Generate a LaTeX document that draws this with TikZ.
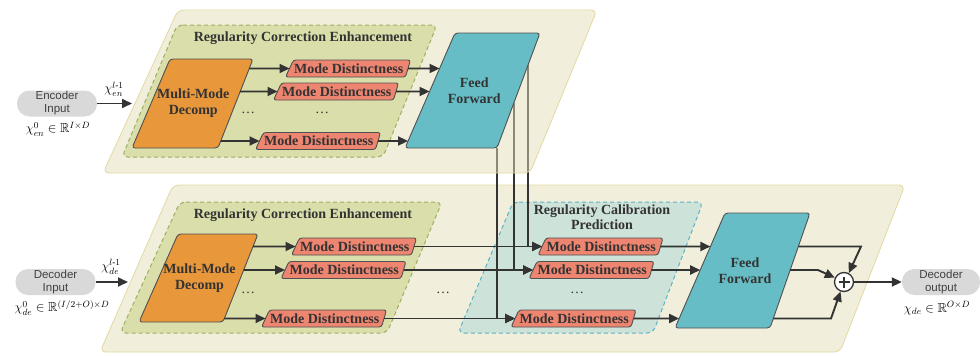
\documentclass[tikz,border=0pt]{standalone}
\usepackage{fix-cm}
\usepackage{amsmath,amssymb}
\usepackage{fontspec}
\setmainfont{Liberation Serif}
\newfontfamily\pillfont{Liberation Sans}
\usetikzlibrary{arrows.meta,calc}
\definecolor{panelfill}{HTML}{F1EFDC}
\definecolor{paneltop}{HTML}{E3DFB9}
\definecolor{panelline}{HTML}{E2D9A2}
\definecolor{greenfill}{HTML}{DADEAA}
\definecolor{greenline}{HTML}{9DAF62}
\definecolor{orangefill}{HTML}{E8973A}
\definecolor{salmon}{HTML}{EE8570}
\definecolor{cyanfill}{HTML}{66BDC5}
\definecolor{tealfill}{HTML}{CDE2D9}
\definecolor{tealline}{HTML}{5BB3C3}
\definecolor{pillgray}{HTML}{D9D9D9}
\definecolor{ink}{HTML}{333333}
\definecolor{edgegray}{HTML}{505050}
\definecolor{pilltext}{HTML}{404040}
\pgfdeclarelayer{panels}
\pgfdeclarelayer{links}
\pgfdeclarelayer{toppanel}
\pgfsetlayers{panels,links,toppanel,main}
\tikzset{
  parashape/.style={draw=edgegray, line width=0.9pt, rounded corners=3pt},
  modestyle/.style={parashape, fill=salmon, rounded corners=2.5pt},
  mmstyle/.style={parashape, fill=orangefill},
  ffstyle/.style={parashape, fill=cyanfill},
  paratext/.style={inner sep=0pt, font=\bfseries\fontsize{14}{16}\selectfont, text=ink, align=center},
  arr/.style={draw=ink, line width=1.9pt, -{Triangle[length=10pt,width=9pt]}},
  panel/.style={draw=panelline, line width=0.8pt, rounded corners=6pt},
  greenreg/.style={draw=greenline, fill=greenfill, line width=1pt, dash pattern=on 4pt off 3pt, rounded corners=6pt},
  tealreg/.style={draw=tealline, fill=tealfill, line width=1pt, dash pattern=on 4pt off 3pt, rounded corners=6pt},
  title/.style={font=\bfseries\fontsize{14}{15}\selectfont, text=ink, align=center, inner sep=0pt},
  dotsnode/.style={font=\fontsize{14}{14}\selectfont, text=ink, inner sep=0pt},
  pill/.style={rectangle, rounded corners=12.5pt, fill=pillgray, minimum width=80pt, minimum height=26pt,
    inner sep=0pt, font=\pillfont\fontsize{11.5}{13}\selectfont, text=pilltext, align=center},
  mathlab/.style={font=\fontsize{13}{13}\selectfont, inner sep=0pt},
}
% #1 name, #2 style, #3 x top-left, #4 x top-right, #5 x bottom-right, #6 x bottom-left, #7 y top, #8 y bottom, #9 text
\newcommand{\mkpara}[9]{%
  \coordinate (#1tl) at (#3,#7);
  \coordinate (#1tr) at (#4,#7);
  \coordinate (#1br) at (#5,#8);
  \coordinate (#1bl) at (#6,#8);
  \coordinate (#1w) at ($(#1tl)!0.5!(#1bl)$);
  \coordinate (#1e) at ($(#1tr)!0.5!(#1br)$);
  \draw[#2] (#1tl) -- (#1tr) -- (#1br) -- (#1bl) -- cycle;
  \node[paratext] (#1) at ($(#1w)!0.5!(#1e)$) {#9};
}
\newcommand{\mkmode}[3]{\mkpara{#1}{modestyle}{#2-54.5}{#2+62.5}{#2+57.5}{#2-62.5}{#3-8.5}{#3+8.5}{Mode Distinctness}}
\begin{document}
\begin{tikzpicture}[x=1pt,y=-1pt]
\useasboundingbox (0,0) rectangle (980,356);

% ---------- panels ----------
\begin{pgfonlayer}{panels}
  \draw[panel, fill=panelfill] (173,185) -- (905,185) -- (840,352) -- (100,352) -- cycle;
  \draw[greenreg] (180,202) -- (442,202) -- (387,333) -- (120,333) -- cycle;
  \draw[tealreg] (513,202) -- (703,202) -- (653,333) -- (458,333) -- cycle;
\end{pgfonlayer}
\begin{pgfonlayer}{toppanel}
  \draw[panel, fill=paneltop, fill opacity=0.5] (178,10) -- (597,10) -- (530,173) -- (103,173) -- cycle;
\end{pgfonlayer}
\draw[greenreg] (177,25) -- (437,25) -- (383,157) -- (122,157) -- cycle;

% ---------- encoder ----------
\node[title] (t1) at (303,38) {Regularity Correction Enhancement};
\mkpara{mma}{mmstyle}{170}{253}{218}{132}{59}{148}{Multi-Mode\\Decomp}
\mkmode{Ta}{348}{68.5}
\mkmode{Tb}{336}{91.5}
\mkmode{Tc}{318}{141}
\node[dotsnode] (d1) at (248,113) {\ldots};
\node[dotsnode] (d2) at (322,113) {\ldots};
\mkpara{ffa}{ffstyle}{455}{540}{497}{405}{33}{148}{Feed\\Forward}

\node[pill] (encin) at (57,103.5) {Encoder\\Input};
\node[mathlab] (encm) at (58,129) {$\chi_{en}^{0}\in\mathbb{R}^{I\times D}$};
\coordinate (encend) at (132,103.5);
\draw[arr] (encin.east) -- (encend);
\node[mathlab] (encl) at (114,89) {$\chi_{en}^{l\text{-}1}$};

\foreach \b in {Ta,Tb,Tc}{
  \draw[arr] (intersection of mmatr--mmabr and \b w--\b e) -- (\b w);
  \draw[arr] (\b e) -- (intersection of ffatl--ffabl and \b w--\b e);
}

% ---------- decoder ----------
\node[title] (t2) at (303,215) {Regularity Correction Enhancement};
\node[title] (t3) at (602,217) {Regularity Calibration\\Prediction};
\mkpara{mmb}{mmstyle}{178}{258}{223}{139}{234}{322}{Multi-Mode\\Decomp}
\mkmode{Ba}{354}{246.5}
\mkmode{Bb}{343.5}{270}
\mkmode{Bc}{324}{318.5}
\mkmode{Ra}{600.5}{246.5}
\mkmode{Rb}{591.5}{270}
\mkmode{Rc}{573.5}{318.5}
\node[dotsnode] (d3) at (248,293) {\ldots};
\node[dotsnode] (d4) at (443,293) {\ldots};
\node[dotsnode] (d5) at (577,293) {\ldots};
\mkpara{ffb}{ffstyle}{725}{810}{770}{675}{213}{328}{Feed\\Forward}

\node[pill] (decin) at (55.5,282) {Decoder\\Input};
\node[mathlab] (decm) at (62,308) {$\chi_{de}^{0}\in\mathbb{R}^{(I/2+O)\times D}$};
\coordinate (decend) at (128,282);
\draw[arr] (decin.east) -- (decend);
\node[mathlab] (decl) at (111,267) {$\chi_{de}^{l\text{-}1}$};

\foreach \b/\r in {Ba/Ra,Bb/Rb,Bc/Rc}{
  \draw[arr] (intersection of mmbtr--mmbbr and \b w--\b e) -- (\b w);
  \draw[arr] (\b e) -- (\r w);
  \draw[arr] (\r e) -- (intersection of ffbtl--ffbbl and \r w--\r e);
}

% links from the encoder feed forward
\coordinate (vaa) at (528,0); \coordinate (vab) at (528,356);
\coordinate (vba) at (514,0); \coordinate (vbb) at (514,356);
\begin{pgfonlayer}{links}
  \draw[arr] (intersection of ffatr--ffabr and vaa--vab) |- (Raw);
  \draw[arr] (intersection of ffatr--ffabr and vba--vbb) |- (Rbw);
  \draw[arr] (ffabr) |- (Rcw);
\end{pgfonlayer}

% ---------- sum and output ----------
\node[circle, draw=ink, fill=white, line width=1.3pt, minimum size=19pt, inner sep=0pt] (plus) at (844,282) {};
\draw[ink, line width=1.3pt] ([xshift=-5.5pt]plus.center) -- ([xshift=5.5pt]plus.center);
\draw[ink, line width=1.3pt] ([yshift=-5.5pt]plus.center) -- ([yshift=5.5pt]plus.center);

\draw[arr] (intersection of ffbtr--ffbbr and Raw--Rae) -- (861,246.5) -- (plus.62);
\draw[arr] (intersection of ffbtr--ffbbr and Rbw--Rbe) -- (818,270) -- (plus.155);
\draw[arr] (intersection of ffbtr--ffbbr and Rcw--Rce) -- (831,318.5) -- (plus.250);

\node[pill, minimum width=78pt] (decout) at (941,282) {Decoder\\output};
\node[mathlab] (outm) at (937,308) {$\chi_{de}\in\mathbb{R}^{O\times D}$};
\draw[arr] (plus.east) -- (decout.west);
\end{tikzpicture}
\end{document}
